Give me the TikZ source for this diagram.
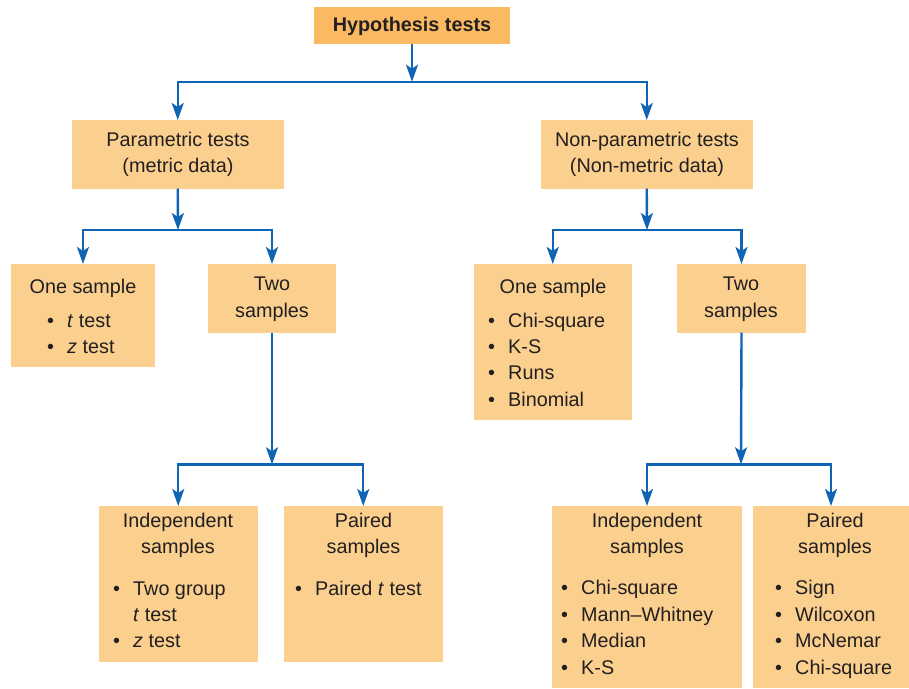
\documentclass[tikz,border=0pt]{standalone}
\usepackage{fontspec}
\setmainfont{Liberation Sans}
\usetikzlibrary{arrows.meta}
\definecolor{boxfill}{RGB}{251,208,143}
\definecolor{topfill}{RGB}{251,185,98}
\definecolor{lineblue}{RGB}{16,100,180}
\definecolor{textgray}{RGB}{35,31,32}
\newcommand\bul{\makebox[20pt][l]{•}}
\begin{document}
\begin{tikzpicture}[x=1pt,y=-1pt,
  box/.style={fill=boxfill, draw=none, inner sep=0pt, outer sep=0pt, anchor=north west},
  txt/.style={inner sep=0pt, anchor=base, font=\fontsize{19.8}{26}\selectfont, text=textgray},
  itm/.style={txt, anchor=base west},
  arr/.style={draw=lineblue, line width=2.4pt, -{Stealth[length=17pt,width=12pt,inset=4pt]}},
]
\useasboundingbox (0,0) rectangle (909,688);

% boxes
\node[box, fill=topfill, minimum width=196pt, minimum height=37.5pt] (top) at (314,6.7) {};
\node[box, minimum width=211.5pt, minimum height=68.5pt] (pp) at (72,120) {};
\node[box, minimum width=211.5pt, minimum height=68.5pt] (np) at (541,120) {};
\node[box, minimum width=144pt, minimum height=102.5pt] (os1) at (11,264) {};
\node[box, minimum width=128pt, minimum height=68.5pt] (ts1) at (208,264) {};
\node[box, minimum width=158.5pt, minimum height=155.5pt] (os2) at (473.5,264) {};
\node[box, minimum width=129pt, minimum height=68.5pt] (ts2) at (677,264) {};
\node[box, minimum width=158.5pt, minimum height=155.5pt] (ind1) at (99,506) {};
\node[box, minimum width=158.5pt, minimum height=155.5pt] (pr1) at (284,506) {};
\node[box, minimum width=190pt, minimum height=182pt] (ind2) at (552,506) {};
\node[box, minimum width=156pt, minimum height=182pt] (pr2) at (753,506) {};

% junctions
\coordinate (j0) at (412,81.7);
\coordinate (j1) at (178,230);
\coordinate (j2) at (647,230);
\coordinate (j3) at (272,464.3);
\coordinate (j4) at (741,464.3);

% connectors
\draw[arr] (top.south) -- (j0);
\draw[arr] (j0) -| (pp.north);
\draw[arr] (j0) -| (np.north);
\draw[arr] (pp.south) -- (j1);
\draw[arr] (j1) -| (os1.north);
\draw[arr] (j1) -| (ts1.north);
\draw[arr] (np.south) -- (j2);
\draw[arr] (j2) -| (os2.north);
\draw[arr] (j2) -| (ts2.north);
\draw[arr] (ts1.south) -- (j3);
\draw[arr] (j3) -| (ind1.north);
\draw[arr] (j3) -| (pr1.north);
\draw[arr] (ts2.south) -- (j4);
\draw[arr] (j4) -| (ind2.north);
\draw[arr] (j4) -| (pr2.north);

% texts
\node[txt, font=\bfseries\fontsize{19.8}{26}\selectfont] (tt) at (412,31.7) {Hypothesis tests};

\node[txt] (pt1) at (178,146) {Parametric tests};
\node[txt] (pt2) at (178,172) {(metric data)};
\node[txt] (nt1) at (647,146) {Non-parametric tests};
\node[txt] (nt2) at (647,172) {(Non-metric data)};

\node[txt] (o1h) at (83,293) {One sample};
\node[itm] (o1a) at (47,327) {\bul\textit{t} test};
\node[itm] (o1b) at (47,353) {\bul\textit{z} test};

\node[txt] (t1a) at (272,290) {Two};
\node[txt] (t1b) at (272,317) {samples};

\node[txt] (o2h) at (553,293) {One sample};
\node[itm] (o2a) at (488,327) {\bul Chi-square};
\node[itm] (o2b) at (488,353) {\bul K-S};
\node[itm] (o2c) at (488,379) {\bul Runs};
\node[itm] (o2d) at (488,406) {\bul Binomial};

\node[txt] (t2a) at (741,290) {Two};
\node[txt] (t2b) at (741,317) {samples};

\node[txt] (i1a) at (178,527) {Independent};
\node[txt] (i1b) at (178,553) {samples};
\node[itm] (i1c) at (113,595) {\bul Two group};
\node[itm] (i1d) at (113,621) {\makebox[20pt]{}\textit{t} test};
\node[itm] (i1e) at (113,647) {\bul\textit{z} test};

\node[txt] (p1a) at (363.5,527) {Paired};
\node[txt] (p1b) at (363.5,553) {samples};
\node[itm] (p1c) at (295,595) {\bul Paired \textit{t} test};

\node[txt] (i2a) at (647,527) {Independent};
\node[txt] (i2b) at (647,553) {samples};
\node[itm] (i2c) at (561,594) {\bul Chi-square};
\node[itm] (i2d) at (561,621) {\bul Mann–Whitney};
\node[itm] (i2e) at (561,647) {\bul Median};
\node[itm] (i2f) at (561,674) {\bul K-S};

\node[txt] (p2a) at (835,527) {Paired};
\node[txt] (p2b) at (835,553) {samples};
\node[itm] (p2c) at (775,594) {\bul Sign};
\node[itm] (p2d) at (775,621) {\bul Wilcoxon};
\node[itm] (p2e) at (775,647) {\bul McNemar};
\node[itm] (p2f) at (775,674) {\bul Chi-square};
\end{tikzpicture}
\end{document}
